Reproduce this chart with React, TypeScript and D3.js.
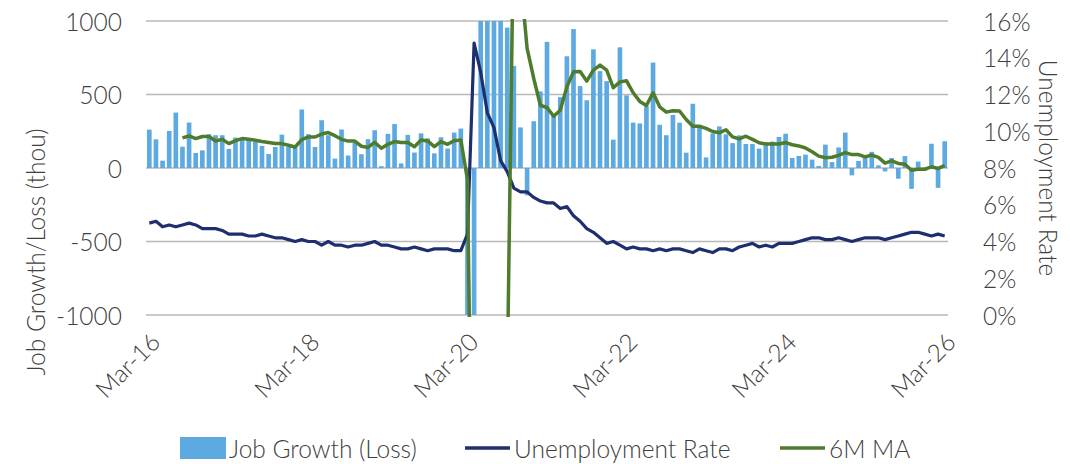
import React from "react";
import * as d3 from "d3";

// Monthly series, Mar-16 through Mar-26
const firstMonth = new Date(2016, 2, 1);
const lastMonthExclusive = new Date(2026, 3, 1);
const tickLabels = ["Mar-16", "Mar-18", "Mar-20", "Mar-22", "Mar-24", "Mar-26"];

// Monthly job growth (loss), thousands
const jobGrowth: number[] = [
  261, 195, 50, 252, 377, 145, 309, 102, 120, 230,
  223, 223, 130, 207, 200, 195, 177, 150, 95, 143, 227, 143,
  139, 398, 230, 143, 325, 223, 64, 262, 85, 172, 94, 196,
  257, 12, 232, 299, 31, 225, 105, 236, 202, 100, 209, 132,
  241, 268, -1373, -20000, 2700, 4500, 1700, 1500, 955, 694, 276, -186,
  318, 521, 858, 358, 482, 760, 945, 557, 461, 807, 659, 591,
  193, 821, 494, 309, 303, 420, 717, 294, 223, 361, 308, 104,
  437, 280, 72, 235, 283, 229, 169, 222, 163, 163, 132, 173,
  180, 211, 233, 68, 82, 91, 57, 14, 159, 40, 140, 241,
  -50, 48, 77, 110, 18, -23, 68, -73, 81, -142, 44, -20,
  165, -135, 182,
];

// Unemployment rate, percent
const unemploymentRate: number[] = [
  5.0, 5.1, 4.8, 4.9, 4.8, 4.9, 5.0, 4.9, 4.7, 4.7,
  4.7, 4.6, 4.4, 4.4, 4.4, 4.3, 4.3, 4.4, 4.3, 4.2, 4.2, 4.1,
  4.0, 4.1, 4.0, 4.0, 3.8, 4.0, 3.8, 3.8, 3.7, 3.8, 3.8, 3.9,
  4.0, 3.8, 3.8, 3.7, 3.6, 3.6, 3.7, 3.6, 3.5, 3.6, 3.6, 3.6,
  3.5, 3.5, 4.4, 14.8, 13.2, 11.0, 10.2, 8.4, 7.8, 6.9, 6.7, 6.7,
  6.4, 6.2, 6.1, 6.1, 5.8, 5.9, 5.4, 5.1, 4.7, 4.5, 4.2, 3.9,
  4.0, 3.8, 3.6, 3.7, 3.6, 3.6, 3.5, 3.6, 3.5, 3.6, 3.6, 3.5,
  3.4, 3.6, 3.5, 3.4, 3.6, 3.6, 3.5, 3.7, 3.8, 3.9, 3.7, 3.8,
  3.7, 3.9, 3.9, 3.9, 4.0, 4.1, 4.2, 4.2, 4.1, 4.1, 4.2, 4.1,
  4.0, 4.1, 4.2, 4.2, 4.2, 4.1, 4.2, 4.3, 4.4, 4.5, 4.5, 4.4,
  4.3, 4.4, 4.3,
];

// Six-month moving average of job growth, thousands
const movingAvg6M: (number | null)[] = [
  null, null, null, null, null, 205, 218, 200, 214, 214,
  184, 195, 166, 186, 200, 195, 189, 180, 173, 166, 166, 155,
  143, 193, 211, 211, 231, 241, 220, 195, 183, 183, 148, 140,
  175, 134, 161, 180, 173, 173, 145, 191, 184, 145, 180, 161,
  186, 191, -80, -3400, -2800, -2300, -2000, -1800, -1450, 1800, 1300, 814,
  609, 427, 411, 352, 393, 552, 655, 657, 591, 666, 700, 666,
  546, 586, 593, 512, 453, 425, 512, 416, 380, 390, 388, 330,
  284, 284, 270, 248, 240, 260, 212, 198, 216, 195, 172, 163,
  163, 163, 173, 158, 150, 136, 111, 81, 70, 73, 86, 105,
  91, 91, 76, 88, 72, 33, 49, 31, 26, -15, -9, -8,
  8, -3, 16,
];

const leftTicks = [-1000, -500, 0, 500, 1000];
const rightTicks = [0, 2, 4, 6, 8, 10, 12, 14, 16];

const W = 1070;
const H = 464;
const plot = { left: 146, right: 948, top: 21, bottom: 315 };

const barColor = "#5DA9E1";
const rateColor = "#1F2E6E";
const maColor = "#4F7B2C";
const gridColor = "#B8B8B8";
const textColor = "#404040";
const font = "Lato, 'Open Sans', sans-serif";
const fontSize = 24.5;

export default function App() {
  const months = d3.timeMonths(firstMonth, lastMonthExclusive);
  const fmt = d3.timeFormat("%b-%y");
  const cats = months.map((m) => fmt(m));

  const x = d3
    .scaleBand<string>()
    .domain(cats)
    .range([plot.left, plot.right])
    .paddingInner(0.3)
    .paddingOuter(0.15);
  const cx = (i: number) => (x(cats[i]) as number) + x.bandwidth() / 2;

  const yL = d3.scaleLinear().domain([-1000, 1000]).range([plot.bottom, plot.top]);
  const yR = d3.scaleLinear().domain([0, 16]).range([plot.bottom, plot.top]);

  const rateLine = d3
    .line<number>()
    .x((_, i) => cx(i))
    .y((d) => yR(d));

  const maLine = d3
    .line<number | null>()
    .defined((d) => d != null)
    .x((_, i) => cx(i))
    .y((d) => yL(d as number));

  const yClamp = (v: number) => yL(Math.max(-1000, Math.min(1000, v)));

  return (
    <svg
      width={W}
      height={H}
      style={{ position: "absolute", left: 0, top: 0, background: "#fff" }}
      fontFamily={font}
      fontWeight={300}
    >
      <defs>
        <clipPath id="plotClip">
          <rect
            x={plot.left}
            y={plot.top - 2}
            width={plot.right - plot.left}
            height={plot.bottom - plot.top + 4}
          />
        </clipPath>
      </defs>

      {/* gridlines */}
      {leftTicks.map((t) => (
        <line
          key={"g" + t}
          x1={plot.left}
          x2={plot.right}
          y1={yL(t)}
          y2={yL(t)}
          stroke={gridColor}
          strokeWidth={1.5}
        />
      ))}

      {/* bars */}
      <g clipPath="url(#plotClip)">
        {jobGrowth.map((v, i) => {
          const y0 = yL(0);
          const y1 = yClamp(v);
          return (
            <rect
              key={"b" + i}
              x={x(cats[i])}
              width={x.bandwidth()}
              y={Math.min(y0, y1)}
              height={Math.abs(y1 - y0)}
              fill={barColor}
            />
          );
        })}
      </g>

      {/* lines */}
      <g clipPath="url(#plotClip)">
        <path
          d={rateLine(unemploymentRate) || ""}
          fill="none"
          stroke={rateColor}
          strokeWidth={3.2}
          strokeLinejoin="round"
        />
        <path
          d={maLine(movingAvg6M) || ""}
          fill="none"
          stroke={maColor}
          strokeWidth={3.5}
          strokeLinejoin="round"
        />
      </g>

      {/* left axis labels */}
      {leftTicks.map((t) => (
        <text
          key={"l" + t}
          x={122}
          y={yL(t)}
          textAnchor="end"
          dominantBaseline="central"
          fontSize={fontSize}
          fill={textColor}
        >
          {t}
        </text>
      ))}

      {/* right axis labels */}
      {rightTicks.map((t) => (
        <text
          key={"r" + t}
          x={983}
          y={yR(t)}
          textAnchor="start"
          dominantBaseline="central"
          fontSize={fontSize}
          fill={textColor}
        >
          {t + "%"}
        </text>
      ))}

      {/* category labels */}
      {tickLabels.map((lab) => {
        const i = cats.indexOf(lab);
        const px = cx(i) - 1;
        const py = 330;
        return (
          <text
            key={"x" + lab}
            transform={`translate(${px},${py}) rotate(-45)`}
            textAnchor="end"
            dominantBaseline="hanging"
            fontSize={fontSize}
            fill={textColor}
          >
            {lab}
          </text>
        );
      })}

      {/* axis titles */}
      <text
        transform={`translate(35,252) rotate(-90)`}
        textAnchor="middle"
        dominantBaseline="central"
        fontSize={fontSize}
        fill={textColor}
      >
        Job Growth/Loss (thou)
      </text>
      <text
        transform={`translate(1048,168) rotate(90)`}
        textAnchor="middle"
        dominantBaseline="central"
        fontSize={fontSize}
        fill={textColor}
      >
        Unemployment Rate
      </text>

      {/* legend */}
      <g fontSize={fontSize} fill={textColor}>
        <rect x={180} y={437} width={46} height={22} fill={barColor} />
        <text x={229} y={448} dominantBaseline="central">
          Job Growth (Loss)
        </text>
        <line x1={465} x2={510} y1={448} y2={448} stroke={rateColor} strokeWidth={3.5} />
        <text x={514} y={448} dominantBaseline="central">
          Unemployment Rate
        </text>
        <line x1={780} x2={825} y1={448} y2={448} stroke={maColor} strokeWidth={3.5} />
        <text x={829} y={448} dominantBaseline="central">
          6M MA
        </text>
      </g>
    </svg>
  );
}
